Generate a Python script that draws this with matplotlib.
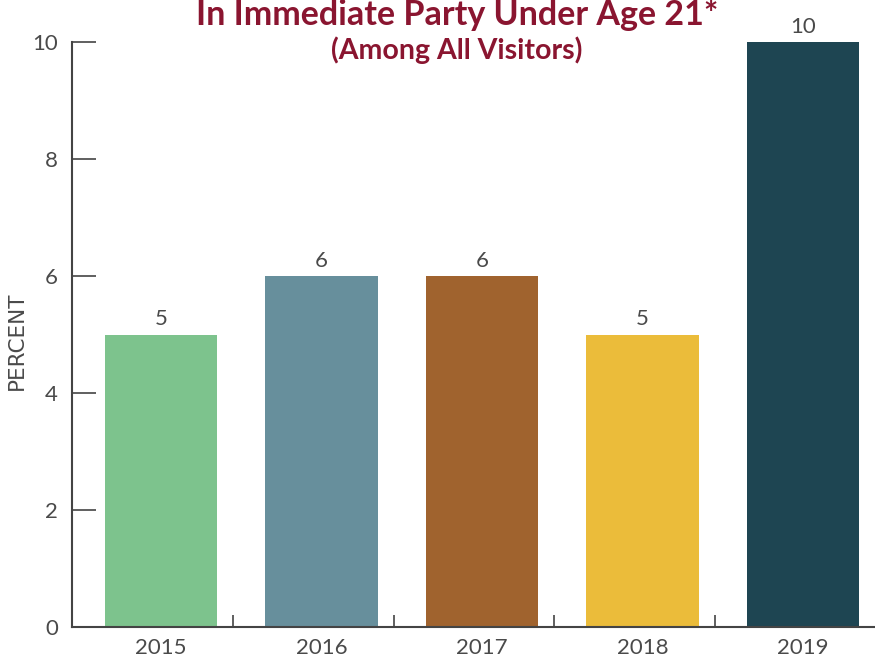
import matplotlib
matplotlib.use("Agg")
import matplotlib.pyplot as plt
import numpy as np

years = ['2015', '2016', '2017', '2018', '2019']
percent = [5, 6, 6, 5, 10]
bar_colors = ['#7dc38d', '#678f9c', '#a0632e', '#ebbc3a', '#1e4552']
y_ticks = [0, 2, 4, 6, 8, 10]

plt.rcParams['font.family'] = ['Lato', 'DejaVu Sans']
text_gray = '#4a4a4a'
title_red = '#8a1530'

fig = plt.figure(figsize=(8.75, 6.59), dpi=100)
ax = fig.add_axes([72 / 875, 32 / 659, 1 - 72 / 875, 627 / 659])

x = np.arange(len(years))
ax.bar(x, percent, width=0.70, color=bar_colors, zorder=2)

# value labels just above each bar
for xi, v in zip(x, percent):
    ax.annotate(str(v), (xi, v), xytext=(0, 4), textcoords='offset points',
                ha='center', va='bottom', fontsize=16, color=text_gray)

ax.set_xlim(-0.555, 4.45)
ax.set_ylim(0, 10.72)

ax.spines['top'].set_visible(False)
ax.spines['right'].set_visible(False)
ax.spines['left'].set_bounds(0, 10)
for s in ('left', 'bottom'):
    ax.spines[s].set_color('#444444')
    ax.spines[s].set_linewidth(1.5)

ax.set_yticks(y_ticks)
ax.set_yticklabels([str(t) for t in y_ticks])
ax.tick_params(axis='y', direction='in', length=17, width=1.2, color='#444444',
               labelsize=16, labelcolor=text_gray, pad=10)

ax.set_xticks(x)
ax.set_xticklabels(years)
ax.tick_params(axis='x', which='major', length=0, labelsize=16,
               labelcolor=text_gray, pad=8)
# small separators between the year groups
ax.set_xticks(x[:-1] + 0.45, minor=True)
ax.tick_params(axis='x', which='minor', direction='in', length=9, width=1.2,
               color='#444444')

fig.text(17 / 875, 1 - 341 / 659, 'PERCENT', rotation=90, ha='center', va='center',
         fontsize=15.5, color=text_gray, family='DejaVu Sans')

fig.text(457 / 875, 1 - 25 / 659, 'In Immediate Party Under Age 21*', ha='center',
         va='baseline', fontsize=24.5, fontweight='bold', color=title_red)
fig.text(457 / 875, 1 - 59 / 659, '(Among All Visitors)', ha='center',
         va='baseline', fontsize=20.5, fontweight='bold', color=title_red)

fig.savefig('out.png', dpi=100)
